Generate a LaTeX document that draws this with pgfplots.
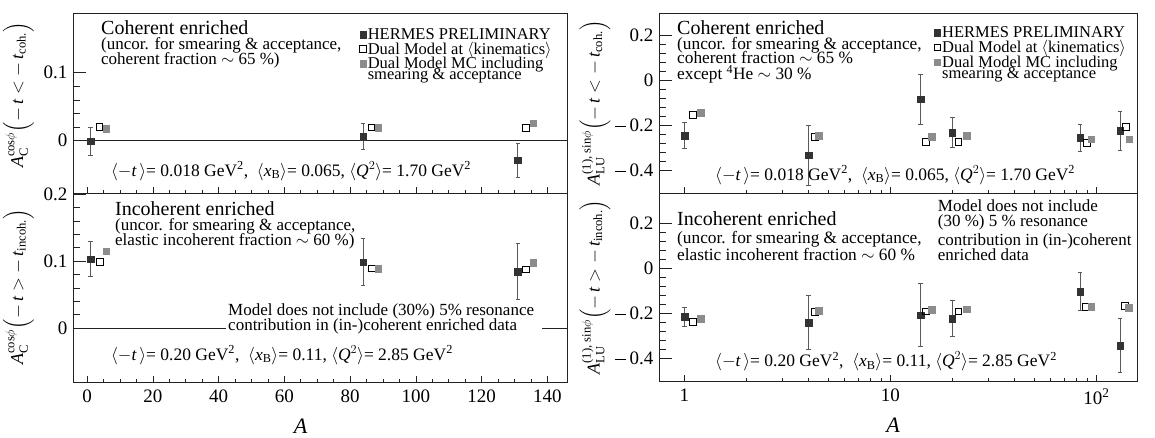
\RequirePackage{fix-cm}
\documentclass[border=0pt]{standalone}
\usepackage{fontspec}
\setmainfont{Liberation Serif}
\usepackage{amsmath}
\usepackage{pgfplots}
\pgfplotsset{compat=1.18}

\definecolor{hdark}{HTML}{333333}
\definecolor{hgray}{HTML}{8C8C8C}
\definecolor{ebar}{HTML}{5A5A5A}
\definecolor{axcol}{HTML}{222222}

\newcommand{\fT}{\fontsize{20}{20}\selectfont}
\newcommand{\fS}{\fontsize{17}{17}\selectfont}
\newcommand{\fSr}{\fontsize{17.3}{17.3}\selectfont}
\newcommand{\fK}{\fontsize{17.5}{17.5}\selectfont}
\newcommand{\fM}{\fontsize{17}{17}\selectfont}

\pgfplotsset{
  base/.style={scale only axis, anchor=south west,
    axis line style={axcol, line width=0.7pt},
    tick style={axcol, line width=0.6pt}, tick align=inside,
    xtick pos=bottom, ytick pos=left,
    /pgf/number format/assume math mode=true,
    tick label style={font=\fontsize{19}{19}\selectfont},
    yticklabel style={xshift=-2pt},
    xticklabel style={yshift=-4pt},
    legend image code/.code={\draw[mark repeat=1,##1] plot coordinates {(0pt,0pt)};},
  },
  yonly/.style={base, xtick=\empty, major tick length=13pt, minor tick length=7pt},
  xonly/.style={base, ytick=\empty, axis line style={draw=none}, major tick length=6pt, minor tick length=3pt},
  rylab/.style={yticklabel={\pgfmathparse{\tick<0}\ifdim\pgfmathresult pt>0.5pt\rule[0.24em]{0.56em}{0.055em}\hspace{0.22em}\fi\pgfmathparse{abs(\tick)}\pgfmathprintnumber[fixed,precision=1]{\pgfmathresult}}},
  herm/.style={only marks, mark=square*, mark size=3.3pt, color=hdark,
    mark options={fill=hdark, draw=hdark},
    error bars/y dir=both, error bars/y explicit,
    error bars/error bar style={ebar, line width=0.8pt},
    error bars/error mark options={ebar, mark size=2.2pt, line width=0.8pt, rotate=90}},
  dmod/.style={only marks, mark=square, mark size=3.3pt, color=black,
    mark options={fill=white, draw=black, line width=0.7pt}},
  dmc/.style={only marks, mark=square*, mark size=3.3pt, color=hgray,
    mark options={fill=hgray, draw=hgray}},
  leg/.style={legend style={at={(#1)}, anchor=north west, draw=none, fill=none,
    font=\fontsize{16.5}{13}\selectfont, row sep=-1.5pt, inner sep=0pt,
    nodes={inner sep=1.5pt}}, legend cell align=left},
}

\begin{document}
\begin{tikzpicture}[x=1pt,y=1pt]
\path[use as bounding box] (0,0) rectangle (1155,437);

% ---------------- left top ----------------
\begin{axis}[yonly, at={(73pt,244pt)}, width=494pt, height=180pt,
  xmin=-4.3, xmax=146, ymin=-0.077, ymax=0.188,
  ytick={0,0.1}, yticklabels={0,0.1}, minor y tick num=4,
  leg={0.58,0.925}]
\addplot[axcol, line width=0.7pt, forget plot] coordinates {(-4.3,0) (146,0)};
\addplot[herm] coordinates {(1,-0.001) +- (0,0.021) (84,0.006) +- (0,0.019) (131,-0.029) +- (0,0.025)};
\addlegendentry{HERMES PRELIMINARY}
\addplot[dmod] coordinates {(3.7,0.0205) (86.5,0.0196) (133.5,0.019)};
\addlegendentry{Dual Model at $\langle$kinematics$\rangle$}
\addplot[dmc] coordinates {(5.8,0.018) (88.6,0.019) (135.7,0.0255)};
\addlegendentry{\begin{tabular}[t]{@{}l@{}}Dual Model MC including\\[-4pt]smearing \& acceptance\end{tabular}}
\end{axis}
\begin{axis}[xonly, at={(73pt,244pt)}, width=494pt, height=180pt,
  xmin=-4.3, xmax=146, ymin=-0.077, ymax=0.188,
  xtick={0,20,...,140}, xticklabels={}, minor x tick num=3]
\addplot[draw=none] coordinates {(0,0)};
\end{axis}

% ---------------- left bottom ----------------
\begin{axis}[yonly, at={(73pt,55pt)}, width=494pt, height=189pt,
  xmin=-4.3, xmax=146, ymin=-0.081, ymax=0.202,
  ytick={0,0.1,0.2}, yticklabels={0,0.1,0.2}, minor y tick num=4]
\addplot[axcol, line width=0.7pt] coordinates {(-4.3,0) (42.4,0)};
\addplot[axcol, line width=0.7pt] coordinates {(138.4,0) (146,0)};
\addplot[herm] coordinates {(1,0.103) +- (0,0.026) (84,0.0985) +- (0,0.035) (131,0.084) +- (0,0.042)};
\addplot[dmod] coordinates {(3.8,0.099) (86.7,0.089) (133.5,0.0875)};
\addplot[dmc] coordinates {(5.8,0.115) (88.6,0.089) (135.7,0.098)};
\end{axis}
\begin{axis}[xonly, at={(73pt,55pt)}, width=494pt, height=189pt,
  xmin=-4.3, xmax=146, ymin=-0.081, ymax=0.202,
  xtick={0,20,...,140}, xticklabels={0,20,40,60,80,100,120,140}, minor x tick num=3]
\addplot[draw=none] coordinates {(0,0)};
\end{axis}

% ---------------- right top ----------------
\begin{axis}[yonly, rylab, at={(659pt,244pt)}, width=478pt, height=180pt, xmode=log,
  xmin=0.753, xmax=157.6, ymin=-0.5, ymax=0.3,
  ytick={-0.4,-0.2,0,0.2}, minor y tick num=4,
  leg={0.575,0.935}]
\addplot[herm] coordinates {(1,-0.244) +- (0,0.058) (4,-0.332) +- (0,0.132) (14,-0.083) +- (0,0.11)
  (20,-0.231) +- (0,0.066) (83.4,-0.254) +- (0,0.061) (130.3,-0.224) +- (0,0.086)};
\addlegendentry{HERMES PRELIMINARY}
\addplot[dmod] coordinates {(1.1,-0.153) (4.3,-0.251) (14.9,-0.272) (21.4,-0.272) (89.8,-0.278) (139,-0.206)};
\addlegendentry{Dual Model at $\langle$kinematics$\rangle$}
\addplot[dmc] coordinates {(1.2,-0.143) (4.49,-0.244) (15.9,-0.249) (23.5,-0.246) (94.3,-0.26) (144.6,-0.26)};
\addlegendentry{\begin{tabular}[t]{@{}l@{}}Dual Model MC including\\[-4pt]smearing \& acceptance\end{tabular}}
\end{axis}
\begin{axis}[xonly, at={(659pt,244pt)}, width=478pt, height=180pt, xmode=log,
  xmin=0.753, xmax=157.6, ymin=-0.5, ymax=0.3,
  xtick={1,10,100}, xticklabels={}]
\addplot[draw=none] coordinates {(1,0)};
\end{axis}

% ---------------- right bottom ----------------
\begin{axis}[yonly, rylab, at={(659pt,56pt)}, width=478pt, height=188pt, xmode=log,
  xmin=0.753, xmax=157.6, ymin=-0.5, ymax=0.336,
  ytick={-0.4,-0.2,0,0.2}, minor y tick num=4]
\addplot[herm] coordinates {(1,-0.215) +- (0,0.043) (4,-0.24) +- (0,0.12) (14,-0.207) +- (0,0.141)
  (20,-0.222) +- (0,0.079) (83.4,-0.102) +- (0,0.083) (130.3,-0.342) +- (0,0.12)};
\addplot[dmod] coordinates {(1.1,-0.237) (4.3,-0.193) (14.9,-0.19) (21.4,-0.19) (89,-0.169) (138,-0.165)};
\addplot[dmc] coordinates {(1.2,-0.222) (4.49,-0.187) (15.9,-0.183) (23.5,-0.181) (94.3,-0.169) (144,-0.175)};
\end{axis}
\begin{axis}[xonly, at={(659pt,56pt)}, width=478pt, height=188pt, xmode=log,
  xmin=0.753, xmax=157.6, ymin=-0.5, ymax=0.336,
  xtick={1,10,100}, xticklabels={1,10,10\textsuperscript{2}}]
\addplot[draw=none] coordinates {(1,0)};
\end{axis}

% ---------------- texts ----------------
\begin{scope}[every node/.style={anchor=base west, inner sep=0pt}]
\node[font=\fT] at (101,402) {Coherent enriched};
\node[font=\fS] at (101,387) {(uncor. for smearing \& acceptance,};
\node[font=\fS] at (101,372.5) {coherent fraction $\sim$ 65 \%)};
\node[font=\fK] at (111,261) {$\langle -\textit{t}\,\rangle$= 0.018 GeV\textsuperscript{2}, \ $\langle \textit{x}_{\text{B}}\rangle$= 0.065, $\langle \textit{Q}^{2}\rangle$= 1.70 GeV\textsuperscript{2}};

\node[font=\fT] at (115,222) {Incoherent enriched};
\node[font=\fS] at (115,207) {(uncor. for smearing \& acceptance,};
\node[font=\fS] at (115,192) {elastic incoherent fraction $\sim$ 60 \%)};
\node[font=\fM] at (228,122) {Model does not include (30\%) 5\% resonance};
\node[font=\fM] at (228,106.3) {contribution in (in-)coherent enriched data};
\node[font=\fK] at (111,77) {$\langle -\textit{t}\,\rangle$= 0.20 GeV\textsuperscript{2}, \ $\langle \textit{x}_{\text{B}}\rangle$= 0.11, $\langle \textit{Q}^{2}\rangle$= 2.85 GeV\textsuperscript{2}};

\node[font=\fT] at (677,402) {Coherent enriched};
\node[font=\fSr] at (677,387) {(uncor. for smearing \& acceptance,};
\node[font=\fSr] at (677,373) {coherent fraction $\sim$ 65 \%};
\node[font=\fSr] at (677,357) {except \textsuperscript{4}He $\sim$ 30 \%};
\node[font=\fK] at (715,257) {$\langle -\textit{t}\,\rangle$= 0.018 GeV\textsuperscript{2}, \ $\langle \textit{x}_{\text{B}}\rangle$= 0.065, $\langle \textit{Q}^{2}\rangle$= 1.70 GeV\textsuperscript{2}};

\node[font=\fT] at (677,212) {Incoherent enriched};
\node[font=\fSr] at (677,194) {(uncor. for smearing \& acceptance,};
\node[font=\fSr] at (677,177) {elastic incoherent fraction $\sim$ 60 \%};
\node[font=\fM] at (937.7,225.3) {Model does not include};
\node[font=\fM] at (937.7,210.3) {(30 \%) 5 \% resonance};
\node[font=\fM] at (937.7,192) {contribution in (in-)coherent};
\node[font=\fM] at (937.7,177) {enriched data};
\node[font=\fK] at (715,70.3) {$\langle -\textit{t}\,\rangle$= 0.20 GeV\textsuperscript{2}, \ $\langle \textit{x}_{\text{B}}\rangle$= 0.11, $\langle \textit{Q}^{2}\rangle$= 2.85 GeV\textsuperscript{2}};
\end{scope}

\node[anchor=base, inner sep=0pt, font=\fontsize{22}{22}\selectfont\itshape] at (300.7,4) {A};
\node[anchor=base, inner sep=0pt, font=\fontsize{22}{22}\selectfont\itshape] at (893,4.3) {A};

\begin{scope}[every node/.style={rotate=90, anchor=center, inner sep=0pt, font=\fontsize{18}{18}\selectfont}]
\node at (18.5,342) {$\textit{A}^{\text{cos}\phi}_{\text{C}}\Bigl(-\,\textit{t}<-\,\textit{t}_{\text{coh.}}\Bigr)$};
\node at (18.5,150) {$\textit{A}^{\text{cos}\phi}_{\text{C}}\Bigl(-\,\textit{t}>-\,\textit{t}_{\text{incoh.}}\Bigr)$};
\node at (595,334) {$\textit{A}^{\text{(1), sin}\phi}_{\text{LU}}\Bigl(-\,\textit{t}<-\,\textit{t}_{\text{coh.}}\Bigr)$};
\node at (595,150) {$\textit{A}^{\text{(1), sin}\phi}_{\text{LU}}\Bigl(-\,\textit{t}>-\,\textit{t}_{\text{incoh.}}\Bigr)$};
\end{scope}
\end{tikzpicture}
\end{document}
